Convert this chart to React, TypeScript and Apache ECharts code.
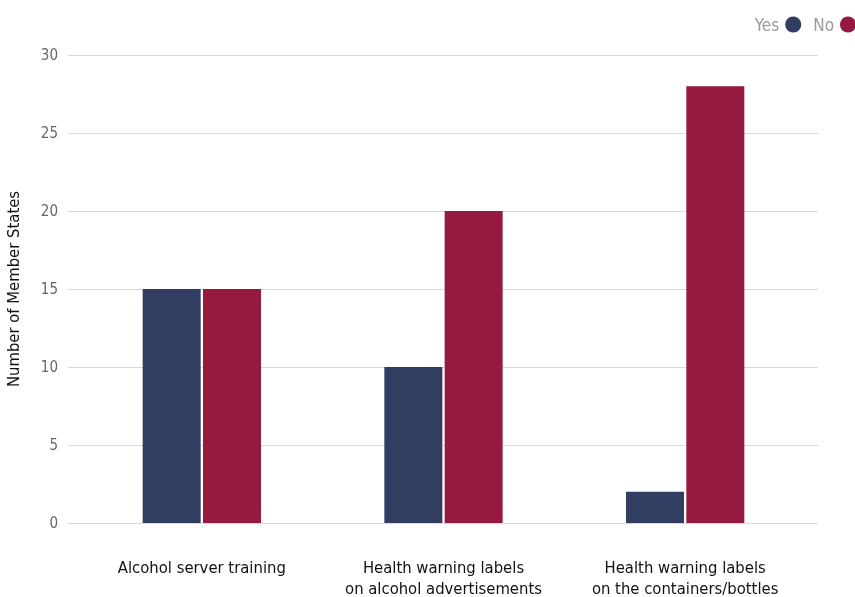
import React, { useEffect, useRef } from "react";
import * as echarts from "echarts";

const categories = [
  "Alcohol server training",
  "Health warning labels\non alcohol advertisements",
  "Health warning labels\non the containers/bottles",
];
const yesValues = [15, 10, 2];
const noValues = [15, 20, 28];
const seriesNames = ["Yes", "No"];
const yAxisName = "Number of Member States";

const FONT = "'Liberation Sans Narrow', 'DejaVu Sans Condensed', 'Open Sans', sans-serif";

export default function App() {
  const ref = useRef<HTMLDivElement>(null);
  useEffect(() => {
    if (!ref.current) return;
    const chart = echarts.init(ref.current, null, { renderer: "svg" });
    chart.setOption({
      animation: false,
      textStyle: { fontFamily: FONT },
      legend: {
        data: seriesNames,
        right: -6,
        top: 11,
        align: "right",
        icon: "circle",
        itemWidth: 16,
        itemHeight: 16,
        itemGap: 12,
        textStyle: { color: "#9a9a9a", fontSize: 17, fontFamily: FONT, padding: [0, 1, 0, 0] },
      },
      grid: [
        { left: 68, right: 37, top: 55, bottom: 74, outerBoundsMode: "none" },
        { left: 81, right: 49, top: 55, bottom: 74, outerBoundsMode: "none" },
      ],
      xAxis: [
        { type: "category", gridIndex: 0, data: categories, show: false },
        {
          type: "category",
          gridIndex: 1,
          data: categories,
          axisLine: { show: false },
          axisTick: { show: false },
          axisLabel: {
            color: "#111",
            fontSize: 16.5,
            margin: 34,
            lineHeight: 21,
            fontFamily: FONT,
            interval: 0,
          },
        },
      ],
      yAxis: [
        {
          type: "value",
          gridIndex: 0,
          min: 0,
          max: 30,
          interval: 5,
          name: yAxisName,
          nameLocation: "middle",
          nameGap: 46,
          nameTextStyle: { color: "#111", fontSize: 16.5, fontFamily: FONT },
          axisLine: { show: false },
          axisTick: { show: false },
          axisLabel: { color: "#666", fontSize: 15, margin: 10, fontFamily: FONT },
          splitLine: { lineStyle: { color: "#d9d9d9", width: 1 } },
        },
        {
          type: "value",
          gridIndex: 1,
          min: 0,
          max: 30,
          interval: 5,
          show: false,
          splitLine: { show: false },
        },
      ],
      series: [
        {
          name: seriesNames[0],
          type: "bar",
          xAxisIndex: 1,
          yAxisIndex: 1,
          data: yesValues,
          barWidth: 58,
          barGap: "4%",
          itemStyle: { color: "#313e61" },
        },
        {
          name: seriesNames[1],
          type: "bar",
          xAxisIndex: 1,
          yAxisIndex: 1,
          data: noValues,
          barWidth: 58,
          barGap: "4%",
          itemStyle: { color: "#961a40" },
        },
      ],
    });
    return () => chart.dispose();
  }, []);
  return <div ref={ref} style={{ position: "fixed", left: 0, top: 0, width: 855, height: 597 }} />;
}
